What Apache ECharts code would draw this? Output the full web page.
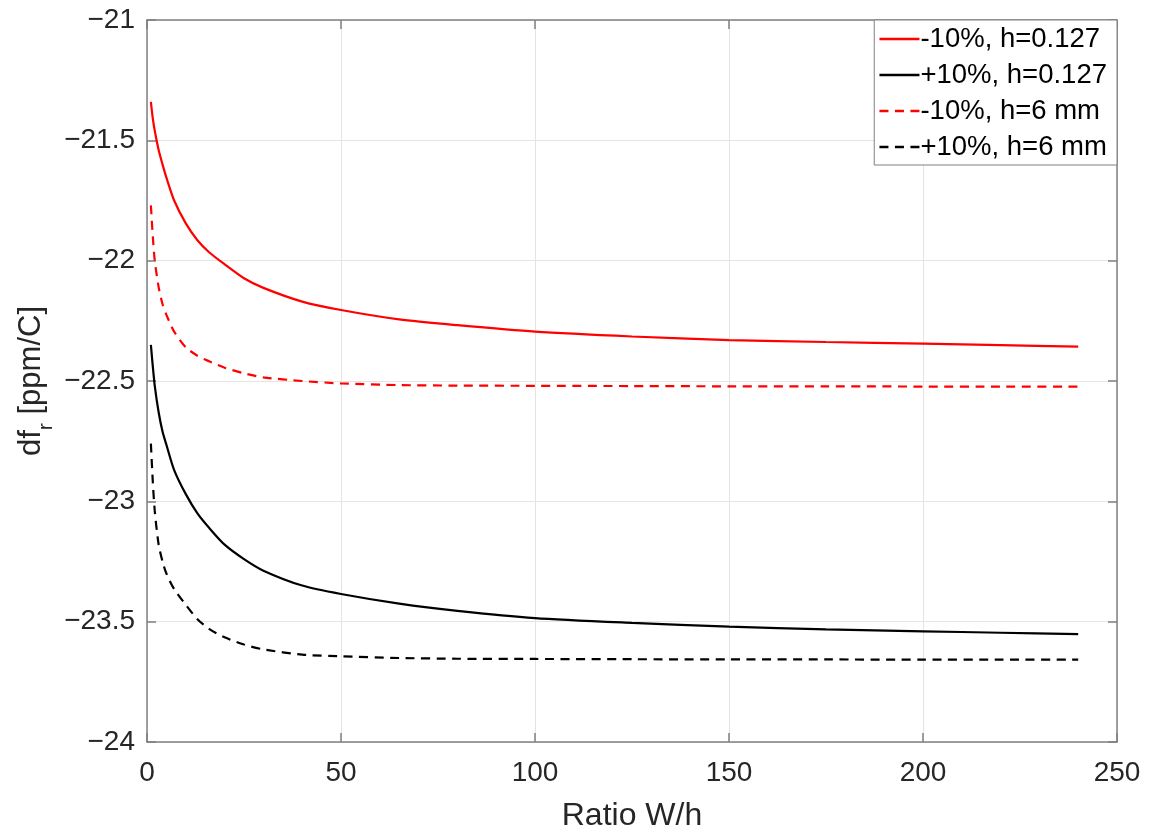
<!DOCTYPE html>
<html>
<head>
<meta charset="utf-8">
<script src="https://cdn.jsdelivr.net/npm/echarts@6/dist/echarts.min.js"></script>
<style>
html,body{margin:0;padding:0;background:#fff;}
#chart{width:1150px;height:837px;}
</style>
</head>
<body>
<div id="chart"></div>
<script>
// Ratio W/h sample positions
var ratioX = [1, 1.5, 2, 3, 4, 5, 7, 10, 13, 16, 20, 25, 30, 40, 50, 65, 80, 100, 125, 150, 175, 200, 220, 240];

// -10%, h=0.127
var redSolid = [-21.34, -21.41, -21.46, -21.54, -21.60, -21.655, -21.75, -21.845, -21.915, -21.965, -22.015, -22.073, -22.113, -22.17, -22.205, -22.244, -22.268, -22.295, -22.315, -22.33, -22.338, -22.345, -22.351, -22.357];
// +10%, h=0.127
var blackSolid = [-22.35, -22.44, -22.52, -22.63, -22.71, -22.765, -22.87, -22.97, -23.05, -23.11, -23.18, -23.24, -23.288, -23.35, -23.385, -23.425, -23.455, -23.485, -23.505, -23.521, -23.532, -23.54, -23.546, -23.552];
// -10%, h=6 mm
var redDashed = [-21.77, -21.90, -22.0, -22.11, -22.18, -22.225, -22.295, -22.36, -22.395, -22.418, -22.445, -22.468, -22.485, -22.50, -22.51, -22.517, -22.519, -22.52, -22.521, -22.522, -22.522, -22.523, -22.523, -22.523];
// +10%, h=6 mm
var blackDashed = [-22.76, -22.92, -23.04, -23.18, -23.25, -23.30, -23.365, -23.43, -23.49, -23.53, -23.565, -23.595, -23.615, -23.637, -23.644, -23.651, -23.654, -23.655, -23.656, -23.657, -23.657, -23.658, -23.658, -23.658];

var seriesNames = ['-10%, h=0.127', '+10%, h=0.127', '-10%, h=6 mm', '+10%, h=6 mm'];
var xTicks = {min: 0, max: 250, interval: 50};
var yTicks = {min: -24, max: -21, interval: 0.5};

function pairs(ys) { return ratioX.map(function (x, i) { return [x, ys[i]]; }); }
function minus(v) { return String(v).replace('-', '\u2212'); }

var FONT = 'Liberation Sans, Arial, Helvetica, sans-serif';
var AX = '#808080';
var TXT = '#262626';

function mkSeries(name, ys, color, dashed) {
  return {
    name: name, type: 'line', data: pairs(ys), symbol: 'none', showSymbol: false,
    smooth: 0.25,
    lineStyle: {color: color, width: 2.2, type: dashed ? [9, 6.5] : 'solid'},
    itemStyle: {color: color},
    xAxisIndex: 0, yAxisIndex: 0
  };
}

var chart = echarts.init(document.getElementById('chart'), null, {renderer: 'canvas'});
chart.setOption({
  animation: false,
  backgroundColor: '#fff',
  grid: {left: 147, right: 33, top: 20, bottom: 94, containLabel: false},
  legend: {
    orient: 'vertical', right: 33, top: 20,
    data: seriesNames,
    backgroundColor: '#fff', borderColor: AX, borderWidth: 1, borderRadius: 0,
    padding: [4, 10, 3, 4], itemGap: 6, itemWidth: 40, itemHeight: 14,
    itemStyle: {color: 'rgba(0,0,0,0)', borderColor: 'rgba(0,0,0,0)', borderWidth: 0, opacity: 0},
    lineStyle: {width: 2.4},
    textStyle: {fontFamily: FONT, fontSize: 27.5, color: '#000', lineHeight: 30, padding: [0, 0, 0, -4]}
  },
  xAxis: [{
    type: 'value', min: xTicks.min, max: xTicks.max, interval: xTicks.interval, position: 'bottom',
    name: 'Ratio W/h', nameLocation: 'middle', nameGap: 58, nameMoveOverlap: false,
    nameTextStyle: {fontFamily: FONT, fontSize: 32, color: TXT},
    axisLine: {show: true, onZero: false, lineStyle: {color: AX, width: 1.5}},
    axisTick: {show: true, inside: true, length: 9, lineStyle: {color: AX, width: 1.5}},
    axisLabel: {fontFamily: FONT, fontSize: 28, color: TXT, margin: 17},
    splitLine: {show: true, lineStyle: {color: '#e4e4e4', width: 1}}
  }, {
    type: 'value', min: xTicks.min, max: xTicks.max, interval: xTicks.interval, position: 'top',
    axisLine: {show: true, onZero: false, lineStyle: {color: AX, width: 1.5}},
    axisTick: {show: true, inside: true, length: 9, lineStyle: {color: AX, width: 1.5}},
    axisLabel: {show: false}, splitLine: {show: false}
  }],
  yAxis: [{
    type: 'value', min: yTicks.min, max: yTicks.max, interval: yTicks.interval, position: 'left',
    name: '{a|df}{s|r}{a| [ppm/C]}', nameLocation: 'middle', nameGap: 100, nameRotate: 90, nameMoveOverlap: false,
    nameTextStyle: {
      fontFamily: FONT, fontSize: 31, color: TXT,
      rich: {
        a: {fontFamily: FONT, fontSize: 31, color: TXT, verticalAlign: 'bottom', lineHeight: 36},
        s: {fontFamily: FONT, fontSize: 21, color: TXT, verticalAlign: 'bottom', lineHeight: 36, padding: [0, 0, -10, 0]}
      }
    },
    axisLine: {show: true, onZero: false, lineStyle: {color: AX, width: 1.5}},
    axisTick: {show: true, inside: true, length: 9, lineStyle: {color: AX, width: 1.5}},
    axisLabel: {fontFamily: FONT, fontSize: 28, color: TXT, margin: 12, formatter: minus},
    splitLine: {show: true, lineStyle: {color: '#e4e4e4', width: 1}}
  }, {
    type: 'value', min: yTicks.min, max: yTicks.max, interval: yTicks.interval, position: 'right',
    axisLine: {show: true, onZero: false, lineStyle: {color: AX, width: 1.5}},
    axisTick: {show: true, inside: true, length: 9, lineStyle: {color: AX, width: 1.5}},
    axisLabel: {show: false}, splitLine: {show: false}
  }],
  series: [
    mkSeries(seriesNames[0], redSolid, '#ff0000', false),
    mkSeries(seriesNames[1], blackSolid, '#000000', false),
    mkSeries(seriesNames[2], redDashed, '#ff0000', true),
    mkSeries(seriesNames[3], blackDashed, '#000000', true)
  ]
});
</script>
</body>
</html>
